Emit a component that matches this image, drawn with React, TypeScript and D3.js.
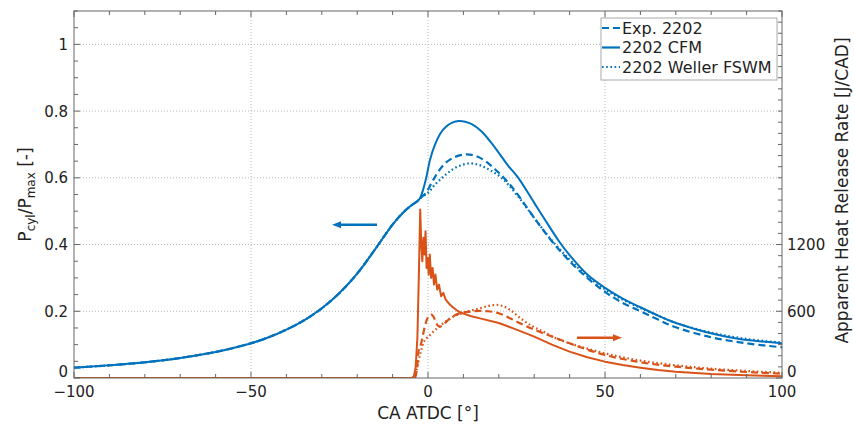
import React from 'react';
import * as d3 from 'd3';

// ---------- data ----------
const X_TICKS = [-100, -50, 0, 50, 100];
const P_TICKS = [0, 0.2, 0.4, 0.6, 0.8, 1];
const HRR_TICKS = [0, 600, 1200];

// shared compression part of pressure (normalized)
const COMP_CA = [-100, -90, -80, -70, -60, -55, -50, -45, -40, -35, -30, -25, -20, -15, -10, -7, -5, -3, -2.3];
const COMP_P = [0.031, 0.038, 0.047, 0.06, 0.078, 0.09, 0.104, 0.122, 0.145, 0.173, 0.209, 0.255, 0.313, 0.385, 0.46, 0.496, 0.515, 0.53, 0.538];

const CFM_CA = [-1.5, -0.5, 0.6, 2, 3.5, 5, 7, 8.6, 10.5, 12.5, 15, 17.5, 20, 22.5, 25.5, 30, 33, 37, 40, 45, 50, 55, 60, 65, 69.3, 75, 78.7, 88, 100];
const CFM_P = [0.56, 0.6, 0.655, 0.7, 0.733, 0.752, 0.766, 0.77, 0.768, 0.76, 0.74, 0.71, 0.675, 0.638, 0.6, 0.525, 0.475, 0.41, 0.368, 0.31, 0.27, 0.238, 0.212, 0.187, 0.168, 0.148, 0.137, 0.117, 0.104];

const EXP_CA = [-1, 0, 1, 2, 3, 5, 7.5, 10.5, 13, 16, 19, 21.8, 25, 30, 35, 40, 45, 50, 55, 60, 65, 70, 80, 90, 100];
const EXP_P = [0.55, 0.565, 0.585, 0.603, 0.62, 0.645, 0.662, 0.67, 0.667, 0.652, 0.625, 0.596, 0.555, 0.48, 0.41, 0.35, 0.3, 0.258, 0.225, 0.2, 0.175, 0.152, 0.122, 0.104, 0.092];

const WEL_CA = [0, 2, 4, 6, 8.5, 11.4, 14, 17, 20.8, 25, 30, 35, 40, 45, 50, 55, 60, 65, 70, 80, 90, 100];
const WEL_P = [0.555, 0.58, 0.6, 0.618, 0.634, 0.643, 0.64, 0.626, 0.6, 0.55, 0.48, 0.412, 0.355, 0.305, 0.266, 0.235, 0.21, 0.187, 0.165, 0.136, 0.117, 0.106];

// apparent heat release rate [J/CAD]
const CFM_HRR_CA = [-100, -4.5, -4.0, -3.5, -3.0, -2.6, -2.2, -1.9, -1.6, -1.3, -1.0, -0.7, -0.4, -0.1, 0.2, 0.5, 0.9, 1.3, 1.7, 2.1, 2.6, 3.1, 3.7, 4.3, 5, 6, 7, 8.5, 10, 12, 15, 20, 25, 30, 35, 40, 45, 50, 55, 60, 65, 70, 80, 90, 100];
const CFM_HRR = [0, 0, 15, 90, 360, 900, 1515, 1200, 1050, 1260, 1110, 1320, 990, 1080, 930, 1110, 900, 990, 840, 930, 795, 840, 735, 765, 705, 666, 636, 600, 579, 558, 534, 495, 435, 372, 300, 237, 186, 147, 117, 93, 72, 57, 36, 24, 15];

const EXP_HRR_CA = [-100, -3.8, -3.4, -3, -2.7, -2.3, -1.8, -1, -0.2, 0.5, 1.0, 1.6, 2.3, 3.0, 3.4, 4.5, 6.2, 9, 12, 14.7, 17, 20, 23, 26, 30, 32.6, 36, 40, 45, 50, 55, 59, 65.5, 70, 80, 90, 100];
const EXP_HRR = [0, 0, 30, 120, 237, 270, 330, 450, 534, 564, 570, 549, 495, 465, 462, 486, 537, 582, 597, 603, 600, 582, 540, 492, 435, 402, 360, 312, 255, 207, 171, 147, 117, 102, 75, 54, 39];

const WEL_HRR_CA = [-100, -3.8, -3.3, -2.7, -2, -1.3, -0.4, 0.5, 1.5, 3, 4.3, 6, 7.2, 10, 12, 14.7, 17, 19.4, 21.5, 23.2, 26, 29, 32.6, 36, 40, 45, 50, 55, 59, 65.5, 70, 80, 90, 100];
const WEL_HRR = [0, 0, 60, 147, 240, 315, 357, 384, 417, 456, 492, 528, 552, 585, 606, 627, 648, 657, 642, 612, 540, 474, 417, 360, 312, 264, 222, 186, 162, 132, 114, 84, 63, 48];

const LEGEND = ['Exp. 2202', '2202 CFM', '2202 Weller FSWM'];

const BLUE = '#0072BD';
const ORANGE = '#D95319';

export default function App() {
  const L = 74, R = 782, T = 11, B = 378;
  const x = d3.scaleLinear().domain([-100, 100]).range([L, R]);
  const yP = d3.scaleLinear().domain([0, 1.1]).range([B, T]);
  const yH = d3.scaleLinear().domain([0, 3300]).range([B, T]);

  const zip = (a: number[], b: number[]) => a.map((v, i) => [v, b[i]] as [number, number]);
  const lineP = d3.line<[number, number]>().x(d => x(d[0])).y(d => yP(d[1])).curve(d3.curveCatmullRom.alpha(0.5));
  const lineH = d3.line<[number, number]>().x(d => x(d[0])).y(d => yH(d[1])).curve(d3.curveMonotoneX);
  const lineHLin = d3.line<[number, number]>().x(d => x(d[0])).y(d => yH(d[1]));

  const comp = zip(COMP_CA, COMP_P);
  const cfm = comp.concat(zip(CFM_CA, CFM_P));
  const exp = comp.concat(zip(EXP_CA, EXP_P));
  const wel = comp.concat(zip(WEL_CA, WEL_P));

  const dash = '7,4';
  const dot = '1.6,2.6';
  const font = 'DejaVu Sans, sans-serif';
  const axisCol = '#666';

  const xMinor = d3.range(-100, 100.1, 10);
  const pMinor = d3.range(0, 1.1001, 0.05);
  const hMinor = d3.range(0, 3300.1, 100);

  const arrows = [
    { x1: -14.4, x2: -27.1, p: 0.459, c: BLUE },
    { x1: 42.1, x2: 54.8, p: 0.121, c: ORANGE },
  ];

  const rows = [28, 47.5, 67];
  const styles = [dash, null, dot];

  return (
    <svg width={855} height={426} style={{ position: 'absolute', left: 0, top: 0, background: '#fff' }} fontFamily={font}>
      <defs>
        <clipPath id="plot"><rect x={L} y={T} width={R - L} height={B - T} /></clipPath>
      </defs>
      <rect x={0} y={0} width={855} height={426} fill="#fff" />
      {/* grid */}
      <g stroke="#b8b8b8" strokeWidth={1} strokeDasharray="1,2">
        {X_TICKS.filter(v => v > -100 && v < 100).map(v => (
          <line key={'gx' + v} x1={x(v)} x2={x(v)} y1={T} y2={B} />
        ))}
        {P_TICKS.filter(v => v > 0).map(v => (
          <line key={'gy' + v} x1={L} x2={R} y1={yP(v)} y2={yP(v)} />
        ))}
      </g>
      {/* series */}
      <g clipPath="url(#plot)" fill="none" strokeLinejoin="round">
        <path d={lineHLin(zip(CFM_HRR_CA, CFM_HRR)) || ''} stroke={ORANGE} strokeWidth={2} />
        <path d={lineH(zip(EXP_HRR_CA, EXP_HRR)) || ''} stroke={ORANGE} strokeWidth={2.2} strokeDasharray={dash} />
        <path d={lineH(zip(WEL_HRR_CA, WEL_HRR)) || ''} stroke={ORANGE} strokeWidth={2.2} strokeDasharray={dot} />
        <path d={lineP(cfm) || ''} stroke={BLUE} strokeWidth={2} />
        <path d={lineP(exp) || ''} stroke={BLUE} strokeWidth={2.2} strokeDasharray={dash} />
        <path d={lineP(wel) || ''} stroke={BLUE} strokeWidth={2.2} strokeDasharray={dot} />
      </g>
      {/* arrows */}
      {arrows.map((a, i) => {
        const x1 = x(a.x1), x2 = x(a.x2), y = yP(a.p);
        const dir = Math.sign(x2 - x1);
        return (
          <g key={'ar' + i}>
            <line x1={x1} x2={x2 - dir * 7} y1={y} y2={y} stroke={a.c} strokeWidth={2.5} />
            <polygon points={`${x2},${y} ${x2 - dir * 9},${y - 3.5} ${x2 - dir * 9},${y + 3.5}`} fill={a.c} />
          </g>
        );
      })}
      {/* frame */}
      <rect x={L} y={T} width={R - L} height={B - T} fill="none" stroke={axisCol} strokeWidth={1} />
      {/* ticks */}
      <g stroke={axisCol} strokeWidth={1}>
        {xMinor.map(v => {
          const len = X_TICKS.includes(Math.round(v)) ? 6 : 4;
          return (
            <g key={'tx' + v}>
              <line x1={x(v)} x2={x(v)} y1={B} y2={B - len} />
              <line x1={x(v)} x2={x(v)} y1={T} y2={T + len} />
            </g>
          );
        })}
        {pMinor.map(v => {
          const major = Math.abs(v * 5 - Math.round(v * 5)) < 1e-6;
          return <line key={'tp' + v} x1={L} x2={L + (major ? 6 : 4)} y1={yP(v)} y2={yP(v)} />;
        })}
        {hMinor.map(v => {
          const major = HRR_TICKS.includes(Math.round(v));
          return <line key={'th' + v} x1={R} x2={R - (major ? 6 : 4)} y1={yH(v)} y2={yH(v)} />;
        })}
      </g>
      {/* tick labels */}
      <g fontSize={15} fill="#222">
        {X_TICKS.map(v => (
          <text key={'lx' + v} x={x(v)} y={397} textAnchor="middle">{v < 0 ? '\u2212' + Math.abs(v) : String(v)}</text>
        ))}
        {P_TICKS.map(v => (
          <text key={'lp' + v} x={68} y={yP(v) + (v === 0 ? -1 : 5.5)} textAnchor="end">{String(v)}</text>
        ))}
        {HRR_TICKS.map(v => (
          <text key={'lh' + v} x={787} y={yH(v) + (v === 0 ? -1 : 5.5)} textAnchor="start">{String(v)}</text>
        ))}
      </g>
      {/* axis labels */}
      <text x={(L + R) / 2} y={419} textAnchor="middle" fontSize={17} fill="#222">CA ATDC [°]</text>
      <text transform={`translate(31,${(T + B) / 2}) rotate(-90)`} textAnchor="middle" fontSize={17} fill="#222">
        P<tspan dy={4} fontSize={12}>cyl</tspan><tspan dy={-4}>/P</tspan><tspan dy={4} fontSize={12}>max</tspan><tspan dy={-4}> [-]</tspan>
      </text>
      <text transform={`translate(848,${(T + B) / 2 - 4}) rotate(-90)`} textAnchor="middle" fontSize={17} fill="#222">Apparent Heat Release Rate [J/CAD]</text>
      {/* legend */}
      <g>
        <rect x={601} y={18} width={176} height={62} fill="#fff" stroke="#aaa" strokeWidth={1} />
        {LEGEND.map((name, i) => (
          <g key={'lg' + i}>
            <line x1={602} x2={620} y1={rows[i]} y2={rows[i]} stroke={BLUE} strokeWidth={2.2} strokeDasharray={styles[i] || undefined} />
            <text x={622} y={rows[i] + 5.5} fontSize={16} fill="#222">{name}</text>
          </g>
        ))}
      </g>
    </svg>
  );
}
